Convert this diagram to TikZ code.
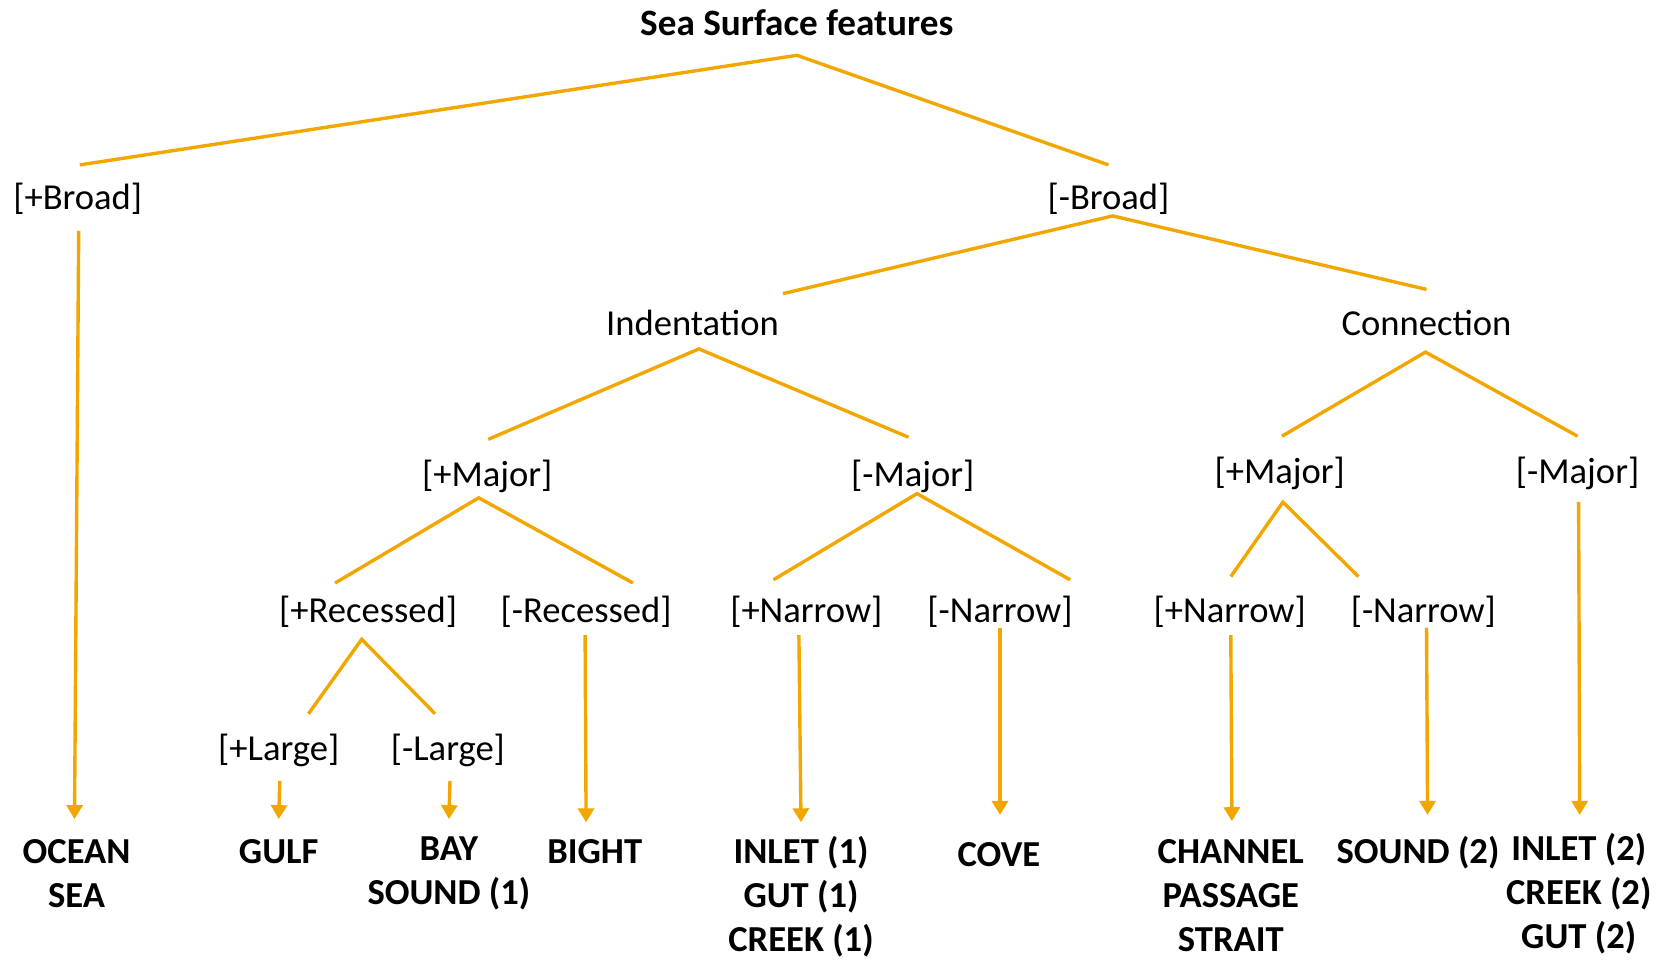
\documentclass[tikz,border=0pt]{standalone}
\usepackage{fontspec}
\setmainfont{Carlito}
\usetikzlibrary{arrows.meta}
\definecolor{orn}{RGB}{242,166,0}
\begin{document}
\begin{tikzpicture}[x=0.5pt,y=-0.5pt,
  feat/.style={anchor=base,inner sep=0pt,font=\fontsize{18.3}{22}\selectfont},
  res/.style={anchor=base,inner sep=0pt,font=\fontsize{18.3}{22}\selectfont\bfseries},
  link/.style={draw=orn,line width=1.7pt},
  arr/.style={link,-{Triangle[width=8pt,length=7pt]}}]
\useasboundingbox (0,0) rectangle (1668,959);
% text nodes
\node[res,font=\fontsize{18.6}{22}\selectfont\bfseries] (title) at (796.8,35.1) {Sea Surface features};
\node[feat] (pbroad) at (77.7,209.6) {[+Broad]};
\node[feat] (mbroad) at (1108.5,209.6) {[-Broad]};
\node[feat] (indent) at (692.5,335.1) {Indentation};
\node[feat] (connx) at (1426.5,335.1) {Connection};
\node[feat] (ipmaj) at (487.2,486.1) {[+Major]};
\node[feat] (immaj) at (912.7,486.1) {[-Major]};
\node[feat] (cpmaj) at (1279.7,483.0) {[+Major]};
\node[feat] (cmmaj) at (1577.6,483.0) {[-Major]};
\node[feat] (prec) at (368.1,622.3) {[+Recessed]};
\node[feat] (mrec) at (586.1,622.3) {[-Recessed]};
\node[feat] (ipnar) at (806.3,622.3) {[+Narrow]};
\node[feat] (imnar) at (1000.0,622.3) {[-Narrow]};
\node[feat] (cpnar) at (1229.7,622.3) {[+Narrow]};
\node[feat] (cmnar) at (1423.3,622.3) {[-Narrow]};
\node[feat] (plarge) at (278.7,760.6) {[+Large]};
\node[feat] (mlarge) at (447.9,760.6) {[-Large]};
% results
\node[res] (ocean) at (76.6,863.5) {\begin{tabular}[t]{@{}c@{}}OCEAN\\SEA\end{tabular}};
\node[res] (gulf) at (278.7,863.5) {GULF};
\node[res] (bay) at (448.9,860.5) {\begin{tabular}[t]{@{}c@{}}BAY\\SOUND (1)\end{tabular}};
\node[res] (bight) at (594.7,863.5) {BIGHT};
\node[res] (inlet1) at (801.0,863.5) {\begin{tabular}[t]{@{}c@{}}INLET (1)\\GUT (1)\\CREEK (1)\end{tabular}};
\node[res] (cove) at (998.9,866.0) {COVE};
\node[res] (channel) at (1230.8,863.5) {\begin{tabular}[t]{@{}c@{}}CHANNEL\\PASSAGE\\STRAIT\end{tabular}};
\node[res] (sound2) at (1418.0,863.5) {SOUND (2)};
\node[res] (inlet2) at (1578.7,860.5) {\begin{tabular}[t]{@{}c@{}}INLET (2)\\CREEK (2)\\GUT (2)\end{tabular}};
% connector end points
\coordinate (title-v) at (796.8,55.3);
\coordinate (pbroad-t) at (79.8,164.9);
\coordinate (mbroad-t) at (1108.5,164.9);
\coordinate (pbroad-b) at (78.7,230.8);
\coordinate (ocean-t) at (74.5,819.1);
\coordinate (mbroad-v) at (1112.7,215.9);
\coordinate (indent-t) at (783.0,293.6);
\coordinate (connx-t) at (1426.5,289.4);
\coordinate (indent-v) at (698.9,348.9);
\coordinate (ipmaj-t) at (488.3,439.3);
\coordinate (immaj-t) at (908.5,437.2);
\coordinate (ipmaj-v) at (478.7,497.8);
\coordinate (prec-t) at (335.1,583.0);
\coordinate (mrec-t) at (633.0,583.0);
\coordinate (prec-v) at (361.7,639.3);
\coordinate (plarge-t) at (308.5,713.8);
\coordinate (mlarge-t) at (435.1,713.8);
\coordinate (plarge-b) at (279.8,780.8);
\coordinate (gulf-t) at (278.7,819.1);
\coordinate (mlarge-b) at (450.0,780.8);
\coordinate (bay-t) at (448.9,819.1);
\coordinate (mrec-b) at (585.1,635.1);
\coordinate (bight-t) at (586.1,822.3);
\coordinate (immaj-v) at (917.0,493.6);
\coordinate (ipnar-t) at (773.4,579.8);
\coordinate (imnar-t) at (1070.2,579.8);
\coordinate (ipnar-b) at (798.9,635.1);
\coordinate (inlet1-t) at (801.0,822.3);
\coordinate (imnar-b) at (1000.0,627.6);
\coordinate (cove-t) at (1000.0,814.9);
\coordinate (connx-v) at (1425.5,352.1);
\coordinate (cpmaj-t) at (1281.9,436.2);
\coordinate (cmmaj-t) at (1577.6,436.2);
\coordinate (cpmaj-v) at (1282.9,502.1);
\coordinate (cpnar-t) at (1230.8,576.6);
\coordinate (cmnar-t) at (1358.5,576.6);
\coordinate (cpnar-b) at (1230.8,635.1);
\coordinate (channel-t) at (1231.9,821.2);
\coordinate (cmnar-b) at (1426.5,627.6);
\coordinate (sound2-t) at (1427.6,814.9);
\coordinate (cmmaj-b) at (1578.6,502.1);
\coordinate (inlet2-t) at (1579.7,814.9);
% branches
\draw[link] (pbroad-t) -- (title-v) -- (mbroad-t);
\draw[link] (indent-t) -- (mbroad-v) -- (connx-t);
\draw[link] (ipmaj-t) -- (indent-v) -- (immaj-t);
\draw[link] (prec-t) -- (ipmaj-v) -- (mrec-t);
\draw[link] (plarge-t) -- (prec-v) -- (mlarge-t);
\draw[link] (ipnar-t) -- (immaj-v) -- (imnar-t);
\draw[link] (cpmaj-t) -- (connx-v) -- (cmmaj-t);
\draw[link] (cpnar-t) -- (cpmaj-v) -- (cmnar-t);
% arrows
\draw[arr] (pbroad-b) -- (ocean-t);
\draw[arr] (plarge-b) -- (gulf-t);
\draw[arr] (mlarge-b) -- (bay-t);
\draw[arr] (mrec-b) -- (bight-t);
\draw[arr] (ipnar-b) -- (inlet1-t);
\draw[arr] (imnar-b) -- (cove-t);
\draw[arr] (cpnar-b) -- (channel-t);
\draw[arr] (cmnar-b) -- (sound2-t);
\draw[arr] (cmmaj-b) -- (inlet2-t);
\end{tikzpicture}
\end{document}
